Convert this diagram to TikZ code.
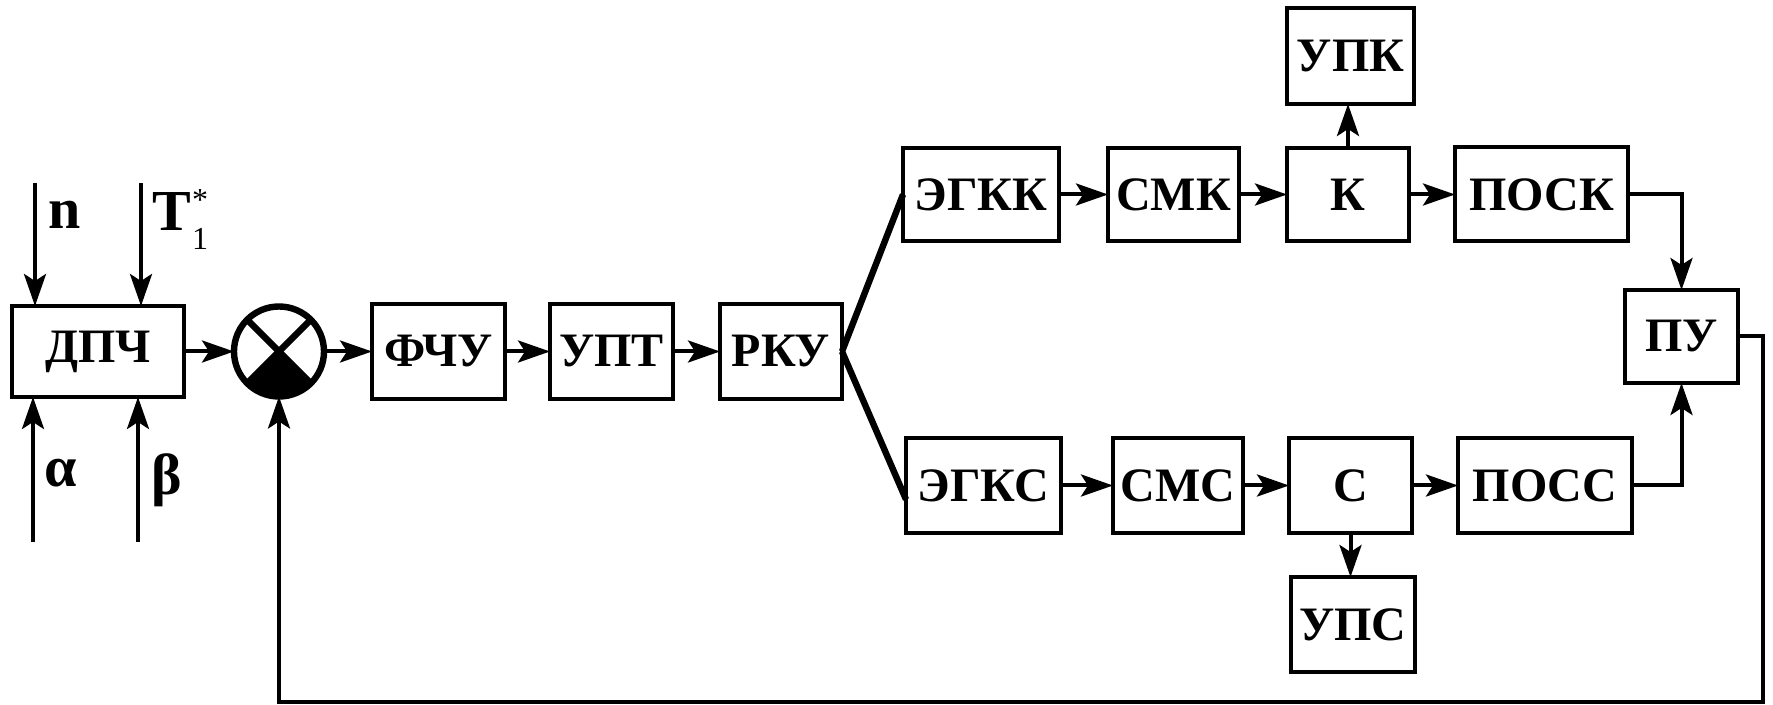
\documentclass[tikz,border=0pt]{standalone}
\usepackage{fontspec}
\setmainfont{Liberation Serif}
\usetikzlibrary{arrows.meta,calc}
\begin{document}
\begin{tikzpicture}[x=0.5pt,y=-0.5pt,
  blk/.style={draw, line width=2pt, inner sep=0pt, outer sep=0pt, font=\bfseries\fontsize{24}{24}\selectfont},
  conn/.style={line width=2pt, -{Stealth[length=16pt,width=11pt,inset=3.5pt]}},
  wire/.style={line width=2pt},
  diag/.style={line width=3.2pt},
  lbl/.style={inner sep=0pt, font=\bfseries\fontsize{29}{29}\selectfont},
  small/.style={inner sep=0pt, font=\fontsize{16}{16}\selectfont}]
\fill[white] (0,0) rectangle (1773,705);
\useasboundingbox (0,0) rectangle (1773,705);
% blocks
\node[blk, minimum width=86pt, minimum height=45.5pt] (dpch) at (98,351.5) {ДПЧ};
\node[blk, minimum width=66.5pt, minimum height=47.5pt] (fchu) at (438.5,351.5) {ФЧУ};
\node[blk, minimum width=61.5pt, minimum height=47.5pt] (upt) at (611.5,351.5) {УПТ};
\node[blk, minimum width=61pt, minimum height=47.5pt] (rku) at (781,351.5) {РКУ};
\node[blk, minimum width=78pt, minimum height=46.5pt] (egkk) at (981,194.5) {ЭГКК};
\node[blk, minimum width=65.5pt, minimum height=46.5pt] (smk) at (1173.5,194.5) {СМК};
\node[blk, minimum width=61pt, minimum height=46.5pt] (k) at (1348,194.5) {К};
\node[blk, minimum width=86.5pt, minimum height=47pt] (posk) at (1541.5,194.5) {ПОСК};
\node[blk, minimum width=63.5pt, minimum height=48pt] (upk) at (1350.5,56) {УПК};
\node[blk, minimum width=56.5pt, minimum height=46.5pt] (pu) at (1681.5,336.5) {ПУ};
\node[blk, minimum width=77.5pt, minimum height=47.5pt] (egks) at (983.5,485.5) {ЭГКС};
\node[blk, minimum width=65pt, minimum height=47.5pt] (sms) at (1178,485.5) {СМС};
\node[blk, minimum width=61.5pt, minimum height=47.5pt] (s) at (1350.5,485.5) {С};
\node[blk, minimum width=87pt, minimum height=47.5pt] (poss) at (1545,485.5) {ПОСС};
\node[blk, minimum width=62pt, minimum height=47.5pt] (ups) at (1353,624.5) {УПС};
% summing junction
\node[circle, draw, line width=3.2pt, minimum size=45pt, inner sep=0pt, outer sep=0pt] (sum) at (279,351.5) {};
\fill (sum.center) -- (sum.-45) arc[start angle=-45, end angle=-135, radius=22.5pt] -- cycle;
\draw[diag] (sum.45) -- (sum.-135);
\draw[diag] (sum.135) -- (sum.-45);
% main chain
\draw[conn] (dpch.east) -- (sum.west);
\draw[conn] (sum.east) -- (fchu.west);
\draw[conn] (fchu) -- (upt);
\draw[conn] (upt) -- (rku);
\draw[diag] (rku.east) -- (egkk.west);
\draw[diag] (rku.east) -- ($(egks.west)+(0,14)$);
% upper branch
\draw[conn] (egkk) -- (smk);
\draw[conn] (smk) -- (k);
\draw[conn] (k) -- (posk);
\draw[conn] (k.north) -- (k.north |- upk.south);
\draw[conn] (posk.east) -| (pu.north);
% lower branch
\draw[conn] (egks) -- (sms);
\draw[conn] (sms) -- (s);
\draw[conn] (s) -- (poss);
\draw[conn] (s.south) -- (s.south |- ups.north);
\draw[conn] (poss.east) -| (pu.south);
% feedback
\coordinate (fbR) at (1763,702);
\draw[conn] (pu.east) -| (fbR) -| (sum.south);
% inputs of ДПЧ
\coordinate (nin) at (35,183);
\coordinate (tin) at (141,183);
\coordinate (ain) at (33,542);
\coordinate (bin) at (138,542);
\draw[conn] (nin) -- (nin |- dpch.north);
\draw[conn] (tin) -- (tin |- dpch.north);
\draw[conn] (ain) -- (ain |- dpch.south);
\draw[conn] (bin) -- (bin |- dpch.south);
% labels
\node[lbl] (nlab) at (65,215) {n};
\node[lbl] (tlab) at (172,212) {T};
\node[small] (tsub) at (200,239) {1};
\node[small] (tsup) at (200,200) {*};
\node[lbl] (alab) at (61,473) {α};
\node[lbl] (blab) at (167,480) {β};
\end{tikzpicture}
\end{document}
